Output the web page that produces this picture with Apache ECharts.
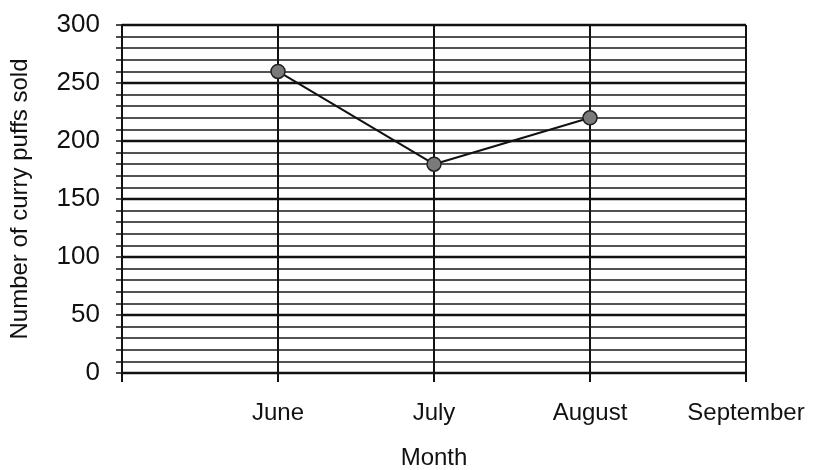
<!DOCTYPE html>
<html>
<head>
<meta charset="utf-8">
<script src="https://cdn.jsdelivr.net/npm/echarts@6/dist/echarts.min.js"></script>
<style>
  html, body { margin: 0; padding: 0; background: #fff; }
  #main { width: 820px; height: 470px; }
</style>
</head>
<body>
<div id="main"></div>
<script>
// months on the x axis, first slot is the empty origin
const months = ['', 'June', 'July', 'August', 'September'];
// curry puffs sold per month (no value for the origin or September)
const puffsSold = [null, 260, 180, 220, null];
const yTicks = [0, 50, 100, 150, 200, 250, 300];

let chartDom = document.getElementById('main');
let myChart = echarts.init(chartDom);

let optionObj = {
    animation: false,
    textStyle: { fontFamily: 'Liberation Sans, Arial, sans-serif' },
    // keep the plot box fixed, don't let v6 shrink it to fit the labels
    grid: { left: 122, right: 74, top: 25, bottom: 97, outerBoundsMode: 'none', containLabel: false },
    xAxis: {
        type: 'category',
        data: months,
        boundaryGap: false,
        name: 'Month',
        nameLocation: 'middle',
        nameGap: 73,
        nameTextStyle: { fontSize: 24, color: '#111' },
        axisLine: { show: true, lineStyle: { color: '#111', width: 2 } },
        axisTick: { show: true, length: 9, lineStyle: { color: '#111', width: 2 } },
        axisLabel: { fontSize: 24, color: '#111', margin: 28 },
        splitLine: { show: true, lineStyle: { color: '#111', width: 2 } }
    },
    yAxis: {
        type: 'value',
        min: yTicks[0],
        max: yTicks[yTicks.length - 1],
        interval: 50,
        name: 'Number of curry puffs sold',
        nameLocation: 'middle',
        nameGap: 90,
        nameTextStyle: { fontSize: 24, color: '#111' },
        axisLine: { show: true, lineStyle: { color: '#111', width: 2 } },
        axisTick: { show: true, length: 6, lineStyle: { color: '#111', width: 1.5 } },
        minorTick: { show: true, splitNumber: 5, length: 6, lineStyle: { color: '#111', width: 1.5 } },
        axisLabel: { fontSize: 26, color: '#111', margin: 22 },
        splitLine: { show: true, lineStyle: { color: '#111', width: 2.4 } },
        minorSplitLine: { show: true, lineStyle: { color: '#1a1a1a', width: 1.5 } }
    },
    series: [
        {
            type: 'line',
            data: puffsSold,
            connectNulls: false,
            symbol: 'circle',
            symbolSize: 14,
            itemStyle: { color: '#7a7a7a', borderColor: '#222', borderWidth: 1.5 },
            lineStyle: { color: '#111', width: 2 },
            z: 5
        }
    ]
};

myChart.setOption(optionObj);
</script>
</body>
</html>
